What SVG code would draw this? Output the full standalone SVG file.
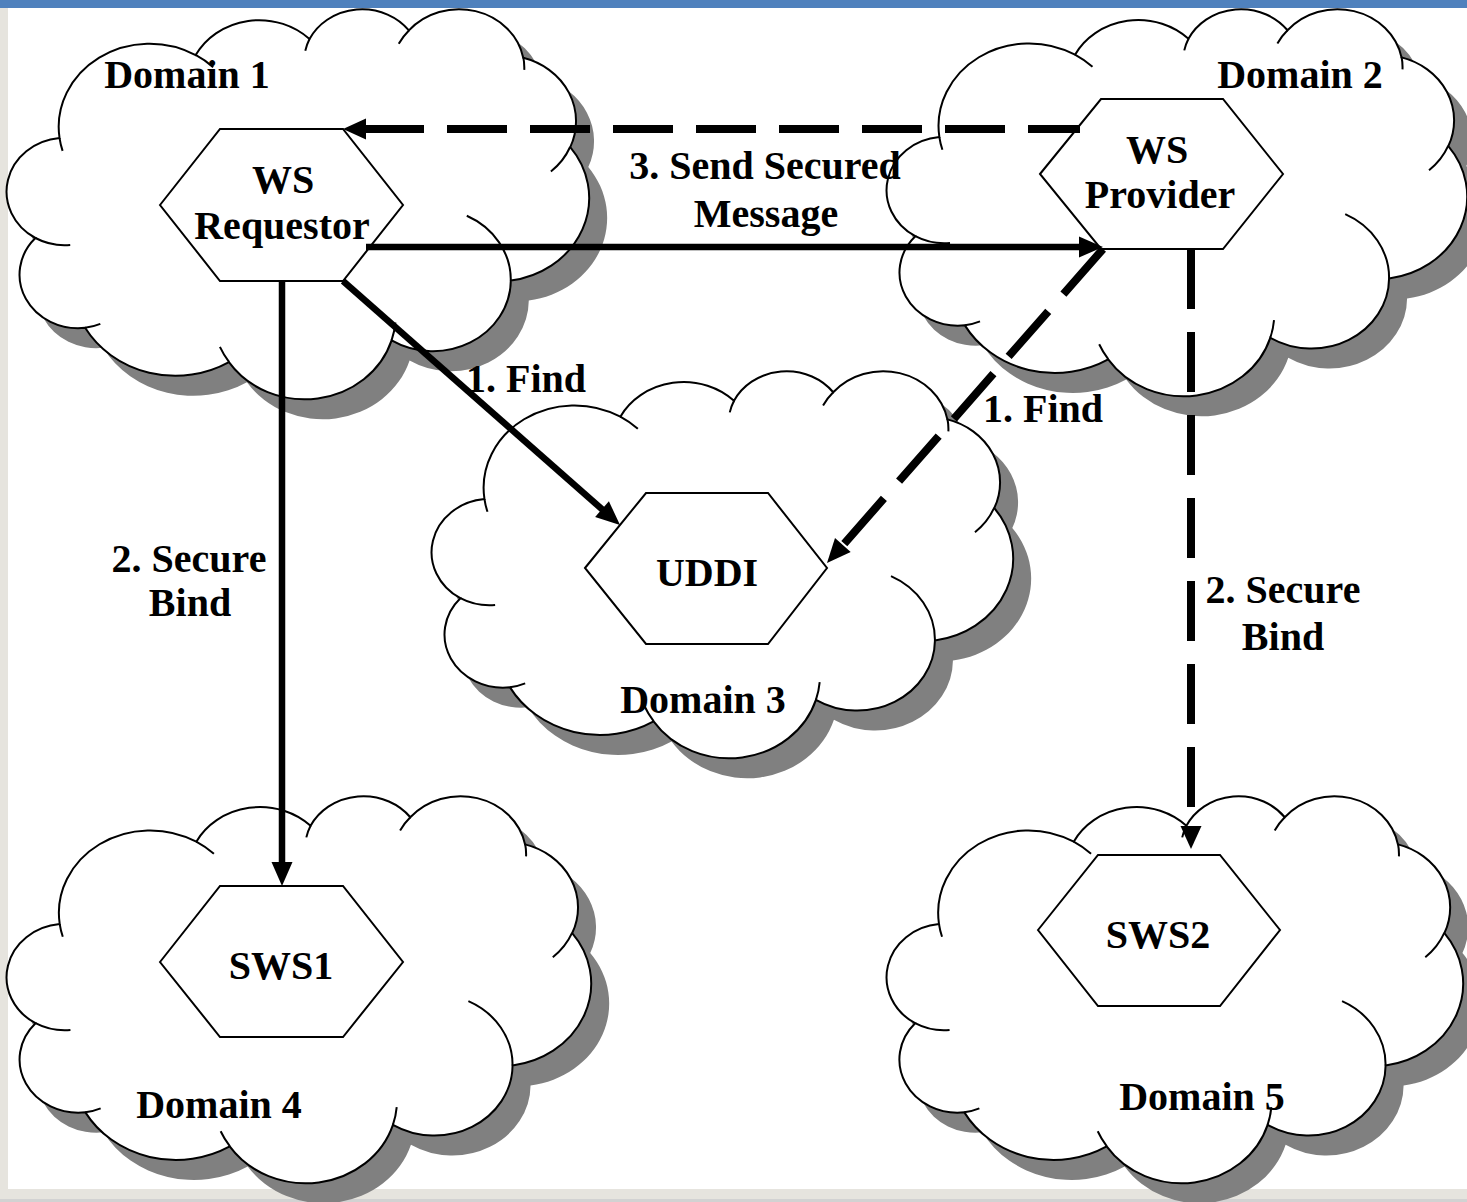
<svg xmlns="http://www.w3.org/2000/svg" xmlns:xlink="http://www.w3.org/1999/xlink" width="1467" height="1202" viewBox="0 0 1467 1202">
<style>
.shadow{fill:#808080;stroke:none}
.cloud{fill:#ffffff;stroke:#000000;stroke-width:2}
.inner{fill:none;stroke:#000000;stroke-width:2}
.hex{fill:#ffffff;stroke:#000000;stroke-width:2}
.t{font-family:"Liberation Serif","Times New Roman",serif;font-weight:bold;font-size:40px;fill:#000000;text-anchor:middle}
.solid{fill:none;stroke:#000000;stroke-width:6.5}
.dash{fill:none;stroke:#000000;stroke-width:8;stroke-dasharray:60 23}
.head{fill:#000000;stroke:none}
</style>
<defs>
<path id="cloudShape" vector-effect="non-scaling-stroke" d="M3900,14370 A6753,9190 0 0 1 14005,5201 A5333,7267 0 0 1 22456,3431 A4365,5945 0 0 1 29833,2479 A4857,6595 0 0 1 38320,5500 A5333,7273 0 0 1 41810,15370 A6775,9220 0 0 1 37396,30114 A5785,7867 0 0 1 28547,36724 A6752,9215 0 0 1 16475,39130 A7720,10543 0 0 1 5799,35336 A4360,5918 0 0 1 2109,25412 A4345,5945 0 0 1 3900,14370 Z"/>
<path id="cloudInner" vector-effect="non-scaling-stroke" d="M4693,26177 A4345,5945 0 0 1 2109,25412 M6928,34899 A4360,5918 0 0 1 5799,35336 M16478,39090 A6752,9215 0 0 1 15804,37435 M28827,34751 A6752,9215 0 0 1 28547,36724 M34129,22954 A5785,7867 0 0 1 37396,30114 M41798,15354 A5333,7273 0 0 1 40372,18061 M38324,5426 A4857,6595 0 0 1 38395,6838 M29078,3952 A4857,6595 0 0 1 29833,2479 M22141,4720 A4365,5945 0 0 1 22456,3431 M14000,5192 A6753,9190 0 0 1 15305,6550 M4127,15789 A6753,9190 0 0 1 3900,14370"/>
</defs>

<rect x="0" y="0" width="1467" height="1202" fill="#ffffff"/>
<rect x="0" y="8" width="8" height="1194" fill="#e6e4de"/>
<rect x="0" y="1189" width="1467" height="13" fill="#e6e4de"/>
<rect x="0" y="1199" width="1467" height="3" fill="#d2d2d2"/>
<rect x="0" y="0" width="1467" height="8" fill="#4f81bd"/>

<g id="domain1">
<use href="#cloudShape" class="shadow" transform="translate(25,28) scale(0.013472,0.009051)"/>
<use href="#cloudShape" class="cloud" transform="translate(7,8) scale(0.013472,0.009051)"/>
<use href="#cloudInner" class="inner" transform="translate(7,8) scale(0.013472,0.009051)"/>
<text class="t" x="187" y="88">Domain 1</text>
</g>
<g id="domain2">
<use href="#cloudShape" class="shadow" transform="translate(905,28) scale(0.013426,0.008981)"/>
<use href="#cloudShape" class="cloud" transform="translate(887,8) scale(0.013426,0.008981)"/>
<use href="#cloudInner" class="inner" transform="translate(887,8) scale(0.013426,0.008981)"/>
<text class="t" x="1300" y="88">Domain 2</text>
</g>
<g id="domain3">
<use href="#cloudShape" class="shadow" transform="translate(450,390) scale(0.013449,0.008981)"/>
<use href="#cloudShape" class="cloud" transform="translate(432,370) scale(0.013449,0.008981)"/>
<use href="#cloudInner" class="inner" transform="translate(432,370) scale(0.013449,0.008981)"/>
<text class="t" x="703" y="713">Domain 3</text>
</g>
<g id="domain4">
<use href="#cloudShape" class="shadow" transform="translate(25,815) scale(0.013519,0.008981)"/>
<use href="#cloudShape" class="cloud" transform="translate(7,795) scale(0.013519,0.008981)"/>
<use href="#cloudInner" class="inner" transform="translate(7,795) scale(0.013519,0.008981)"/>
<text class="t" x="219" y="1118">Domain 4</text>
</g>
<g id="domain5">
<use href="#cloudShape" class="shadow" transform="translate(905,815) scale(0.013333,0.008981)"/>
<use href="#cloudShape" class="cloud" transform="translate(887,795) scale(0.013333,0.008981)"/>
<use href="#cloudInner" class="inner" transform="translate(887,795) scale(0.013333,0.008981)"/>
<text class="t" x="1202" y="1110">Domain 5</text>
</g>

<g id="ws-requestor">
<polygon class="hex" points="160,205 220,129 343,129 403,205 343,281 220,281"/>
<text class="t" x="283" y="193">WS</text>
<text class="t" x="282" y="239">Requestor</text>
</g>
<g id="ws-provider">
<polygon class="hex" points="1040,174 1101,99 1223,99 1283,174 1223,249 1101,249"/>
<text class="t" x="1157" y="163">WS</text>
<text class="t" x="1160" y="208">Provider</text>
</g>
<g id="uddi">
<polygon class="hex" points="585,568 646,493 768,493 827,568 768,644 646,644"/>
<text class="t" x="707" y="586">UDDI</text>
</g>
<g id="sws1">
<polygon class="hex" points="160,962 220,886 343,886 403,962 343,1037 220,1037"/>
<text class="t" x="281" y="979">SWS1</text>
</g>
<g id="sws2">
<polygon class="hex" points="1038,930 1098,855 1220,855 1280,930 1220,1006 1098,1006"/>
<text class="t" x="1158" y="948">SWS2</text>
</g>

<g id="connectors">
<path class="dash" d="M364,129 L1080,129"/>
<polygon class="head" points="343,129 366,118.5 366,139.5"/>
<path class="solid" d="M366,247 L1080,247"/>
<polygon class="head" points="1103,247 1079,236.5 1079,257.5"/>
<path class="solid" d="M343,281 L604,511"/>
<polygon class="head" points="620,525 595.1,517 608.9,501.2"/>
<path class="dash" d="M1103,249 L843,545"/>
<polygon class="head" points="827,563 835,538 850.7,551.9"/>
<path class="solid" d="M282,281 L282,864"/>
<polygon class="head" points="282,886 271.5,862 292.5,862"/>
<path class="dash" d="M1191,249 L1191,827"/>
<polygon class="head" points="1191,849 1180.5,826 1201.5,826"/>
</g>

<g id="labels">
<text class="t" x="765" y="179">3. Send Secured</text>
<text class="t" x="766" y="227">Message</text>
<text class="t" x="526" y="392">1. Find</text>
<text class="t" x="1043" y="422">1. Find</text>
<text class="t" x="189" y="572">2. Secure</text>
<text class="t" x="190" y="616">Bind</text>
<text class="t" x="1283" y="603">2. Secure</text>
<text class="t" x="1283" y="650">Bind</text>
</g>
</svg>
